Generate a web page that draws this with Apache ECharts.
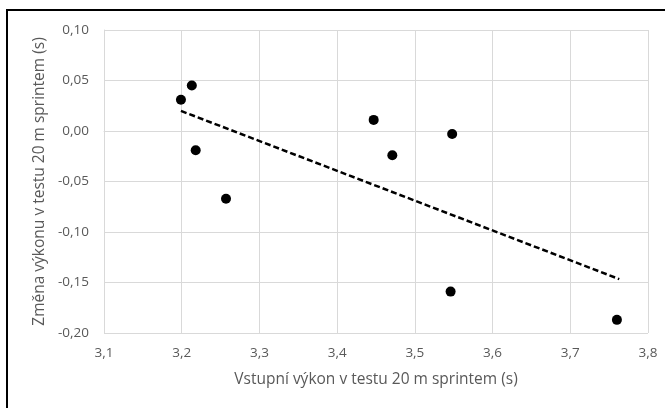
<!DOCTYPE html>
<html>
<head>
<meta charset="utf-8">
<script src="https://cdn.jsdelivr.net/npm/echarts@6/dist/echarts.min.js"></script>
<style>
  html, body { margin: 0; padding: 0; background: #fff; }
  #chart { width: 665px; height: 408px; }
</style>
</head>
<body>
<div id="chart"></div>
<script>
// vstupni vykon (x) a zmena vykonu (y)
var vstupniVykon = [3.199, 3.213, 3.218, 3.257, 3.447, 3.471, 3.548, 3.546, 3.760];
var zmenaVykonu = [0.031, 0.045, -0.019, -0.067, 0.011, -0.024, -0.003, -0.159, -0.187];

// linearni trend, konce cary
var trendX = [3.199, 3.763];
var trendY = [0.0199, -0.1466];

var xNazev = 'Vstupní výkon v testu 20 m sprintem (s)';
var yNazev = 'Změna výkonu v testu 20 m sprintem (s)';

var body = [];
for (var i = 0; i < vstupniVykon.length; i++) {
  body.push([vstupniVykon[i], zmenaVykonu[i]]);
}
var trend = [];
for (var j = 0; j < trendX.length; j++) {
  trend.push([trendX[j], trendY[j]]);
}

var font = '"Open Sans", sans-serif';
var chart = echarts.init(document.getElementById('chart'), null, { renderer: 'canvas' });

var option = {
  animation: false,
  backgroundColor: '#fff',
  grid: { left: 104, right: 17, top: 30, bottom: 75 },
  graphic: [
    {
      type: 'rect',
      shape: { x: 7, y: 10, width: 700, height: 420 },
      style: { fill: 'none', stroke: '#000', lineWidth: 2 },
      silent: true
    }
  ],
  xAxis: {
    type: 'value',
    min: 3.1,
    max: 3.8,
    interval: 0.1,
    name: xNazev,
    nameLocation: 'middle',
    nameGap: 39,
    nameTextStyle: { color: '#595959', fontSize: 15.5, fontFamily: font },
    axisLine: { show: true, lineStyle: { color: '#d9d9d9', width: 1 } },
    axisTick: { show: false },
    axisLabel: {
      color: '#595959', fontSize: 13.5, fontFamily: font, margin: 13,
      formatter: function (v) { return v.toFixed(1).replace('.', ','); }
    },
    splitLine: { show: true, lineStyle: { color: '#d9d9d9', width: 1 } }
  },
  yAxis: {
    type: 'value',
    min: -0.2,
    max: 0.1,
    interval: 0.05,
    name: yNazev,
    nameLocation: 'middle',
    nameGap: 56,
    nameTextStyle: { color: '#595959', fontSize: 15.5, fontFamily: font },
    axisLine: { show: true, lineStyle: { color: '#d9d9d9', width: 1 } },
    axisTick: { show: false },
    axisLabel: {
      color: '#595959', fontSize: 13.5, fontFamily: font, margin: 15,
      formatter: function (v) { return v.toFixed(2).replace('.', ','); }
    },
    splitLine: { show: true, lineStyle: { color: '#d9d9d9', width: 1 } }
  },
  series: [
    {
      name: 'trend',
      type: 'line',
      data: trend,
      symbol: 'none',
      lineStyle: { color: '#000', width: 2.5, type: [6, 3] },
      z: 2
    },
    {
      name: 'body',
      type: 'scatter',
      data: body,
      symbol: 'circle',
      symbolSize: 10,
      itemStyle: { color: '#000', opacity: 1 },
      z: 3
    }
  ]
};
chart.setOption(option);
</script>
</body>
</html>
